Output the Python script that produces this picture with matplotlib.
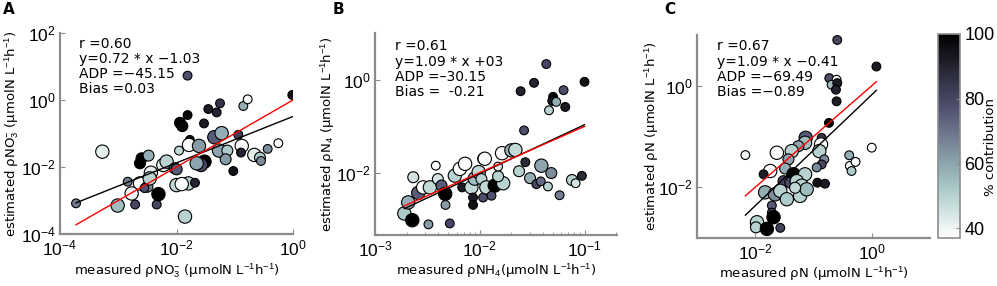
import numpy as np
import matplotlib
matplotlib.use("Agg")
import matplotlib.pyplot as plt
from matplotlib.colors import Normalize
from matplotlib.ticker import NullLocator, LogLocator, NullFormatter

# ---------------- data (log10 values) ----------------
# Panel A: nitrate
a_logx = [-3.725, -3.273, -3.01, -2.838, -2.71, -2.34, -2.627, -2.60, -2.48, -2.44,
          -2.627, -2.50, -2.46, -2.55, -2.77, -2.31, -2.226, -2.17, -2.03, -2.00,
          -1.81, -1.81, -1.94, -1.90, -1.77, -1.786, -1.957, -1.614, -1.528, -1.454,
          -1.31, -1.253, -1.35, -1.225, -1.27, -1.127, -1.156, -1.52, -1.58, -1.654,
          -1.997, -1.025, -0.939, -0.88, -0.893, -0.853, -0.778, -0.664, -0.567, -0.55,
          -0.435, -0.252, -0.012, -1.797, -1.91, -1.683, -1.854]
a_logy = [-3.085, -1.542, -3.15, -2.44, -3.12, -3.12, -1.89, -1.74, -1.66, -2.17,
          -2.49, -2.59, -2.34, -2.63, -2.79, -2.81, -1.94, -1.84, -2.04, -2.54,
          0.727, -0.45, -0.68, -0.78, -1.19, -1.34, -1.51, -1.37, -0.70, -0.27,
          -0.37, -0.10, -1.11, -0.99, -1.51, -1.51, -1.77, -1.84, -1.94, -1.89,
          -2.07, -2.12, -1.04, -1.37, -1.57, -0.18, 0.02, -1.64, -1.72, -1.82,
          -1.46, -1.29, 0.15, -2.49, -2.51, -2.47, -3.48]
a_contrib = [68, 42, 55, 68, 80, 80, 100, 100, 58, 42,
             38, 65, 50, 78, 40, 100, 42, 50, 75, 48,
             78, 98, 98, 98, 96, 38, 48, 62, 92, 92,
             90, 85, 75, 58, 60, 52, 62, 100, 80, 60,
             75, 95, 82, 38, 90, 58, 38, 42, 52, 65,
             65, 38, 95, 50, 38, 90, 50]
a_size = [1, 3, 3, 1, 1, 1, 2, 2, 2, 3,
          3, 2, 3, 1, 3, 3, 3, 3, 2, 3,
          1, 1, 2, 2, 1, 3, 1, 3, 1, 1,
          1, 1, 3, 3, 3, 2, 2, 3, 3, 3,
          2, 1, 1, 3, 1, 1, 1, 3, 2, 1,
          1, 1, 1, 3, 3, 1, 3]
a_fit_x = [-3.725, -0.012]
a_fit_y = [-3.07, -0.50]
a_one_x = [-3.725, -0.012]

# Panel B: ammonium
b_logx = [-2.72, -2.644, -2.49, -2.286, -2.683, -2.635, -2.587, -2.54, -2.476, -2.42,
          -2.40, -2.365, -2.33, -2.327, -2.238, -2.19, -2.14, -2.168, -2.08, -2.064,
          -2.064, -2.048, -2.01, -1.968, -1.984, -1.968, -1.937, -1.952, -1.857, -1.777,
          -1.825, -1.825, -1.888, -1.787, -1.698, -1.66, -1.625, -1.565, -1.577, -1.61,
          -1.482, -1.365, -1.30, -1.308, -1.27, -1.20, -1.184, -1.339, -1.0, -1.52,
          -1.46, -1.418, -1.412, -1.317, -1.349, -1.238, -1.12, -1.085, -1.025]
b_logy = [-2.884, -3.03, -3.12, -3.10, -2.645, -2.10, -2.44, -2.32, -2.32, -1.85,
          -2.14, -2.28, -2.46, -2.70, -2.065, -1.92, -1.81, -2.32, -2.32, -2.54,
          -2.70, -2.13, -1.99, -1.70, -2.14, -2.54, -2.32, -1.70, -2.28, -2.23,
          -2.08, -1.87, -2.50, -1.58, -1.52, -1.51, -1.97, -1.775, -1.087, -0.239,
          -0.058, 0.348, -0.36, -0.45, -0.47, -0.217, -0.58, -0.652, -0.036, -2.12,
          -2.25, -2.19, -1.85, -2.01, -2.30, -2.49, -2.16, -2.23, -2.07]
b_contrib = [52, 100, 62, 80, 58, 45, 75, 38, 48, 38,
             45, 75, 100, 62, 50, 38, 38, 92, 48, 92,
             95, 55, 48, 38, 50, 78, 48, 38, 100, 50,
             50, 42, 78, 38, 58, 48, 50, 88, 78, 90,
             90, 80, 100, 92, 58, 78, 92, 50, 95, 58,
             80, 72, 60, 65, 50, 68, 50, 45, 88]
b_size = [3, 3, 1, 1, 3, 2, 3, 3, 3, 1,
          2, 2, 3, 1, 3, 3, 3, 1, 3, 1,
          1, 3, 3, 2, 2, 1, 3, 3, 3, 3,
          2, 1, 1, 3, 3, 3, 2, 1, 1, 1,
          1, 1, 1, 1, 1, 1, 1, 1, 1, 2,
          1, 1, 3, 2, 1, 1, 2, 1, 1]
b_fit_x = [-2.72, -1.0]
b_fit_y = [-2.78, -0.965]
b_one_x = [-2.72, -1.0]

# Panel C: total N
c_logx = [-0.592, 0.08, -0.729, -0.604, -0.69, -0.592, -0.615, -0.604, -0.735, -0.86,
          -0.871, -0.90, -0.815, -0.86, 0.0, -0.387, -0.376, -0.279, -0.347, -0.934,
          -0.803, -2.17, -1.134, -1.145, -1.26, -1.373, -1.43, -1.629, -1.743, -1.857,
          -1.487, -1.344, -1.515, -1.40, -1.145, -1.287, -1.202, -0.946, -1.83, -1.66,
          -1.57, -1.458, -1.23, -1.117, -1.715, -1.715, -1.686, -1.97, -1.988, -1.80,
          -1.57, -1.316]
c_logy = [0.902, 0.379, 0.15, 0.118, 0.02, 0.052, -0.078, -0.307, -0.732, -1.026,
          -1.157, -1.288, -1.45, -1.55, -1.22, -1.37, -1.58, -1.50, -1.68, -1.91,
          -1.93, -1.366, -1.026, -1.124, -1.19, -1.288, -1.45, -1.32, -1.68, -1.745,
          -1.63, -1.745, -1.88, -1.91, -1.745, -1.88, -1.97, -1.61, -2.10, -2.14,
          -2.07, -2.236, -2.17, -2.04, -2.36, -2.50, -2.59, -2.69, -2.79, -2.82,
          -2.80, -2.01]
c_contrib = [80, 92, 78, 38, 55, 92, 90, 92, 100, 85,
             38, 50, 65, 80, 38, 58, 38, 38, 52, 95,
             92, 40, 75, 55, 60, 50, 60, 38, 38, 92,
             58, 100, 80, 80, 50, 50, 50, 65, 58, 65,
             50, 52, 50, 55, 75, 80, 100, 50, 50, 100,
             82, 48]
c_size = [1, 1, 1, 1, 1, 1, 1, 1, 1, 1,
          3, 3, 1, 1, 1, 1, 1, 1, 1, 1,
          1, 1, 3, 3, 2, 3, 2, 3, 3, 1,
          2, 3, 2, 2, 3, 3, 3, 1, 3, 3,
          3, 3, 3, 3, 1, 1, 3, 3, 2, 3,
          1, 2]
c_fit_x = [-2.17, 0.08]
c_fit_y = [-2.55, -0.09]
c_one_x = [-2.17, 0.08]

stats_a = ["r =0.60", "y=0.72 * x \u22121.03", "ADP =\u221245.15", "Bias =0.03"]
stats_b = ["r =0.61", "y=1.09 * x +03", "ADP =\u201330.15", "Bias =  -0.21"]
stats_c = ["r =0.67", "y=1.09 * x \u22120.41", "ADP =\u221269.49", "Bias =\u22120.89"]

vmin, vmax = 37, 100
cbar_ticks = [40, 60, 80, 100]

# ---------------- figure ----------------
plt.rcParams["mathtext.fontset"] = "custom"
plt.rcParams["mathtext.rm"] = "Liberation Sans"
plt.rcParams["mathtext.it"] = "Liberation Sans:italic"
plt.rcParams["mathtext.bf"] = "Liberation Sans:bold"

W, H = 997, 286
fig = plt.figure(figsize=(W / 100, H / 100), dpi=100)
cmap = plt.get_cmap("bone_r")
norm = Normalize(vmin=vmin, vmax=vmax)
size_map = {1: 40, 2: 62, 3: 92}
SPINE = "#8c8c8c"
TICKFONT = "Liberation Sans"


def rect(l, t, r, b):
    return [l / W, 1 - b / H, (r - l) / W, (b - t) / H]


def pow10_label(v):
    e = int(round(np.log10(v)))
    return r"$\mathregular{10^{%d}}$" % e


def style(ax):
    for s in ("top", "right"):
        ax.spines[s].set_visible(False)
    for s in ("left", "bottom"):
        ax.spines[s].set_color(SPINE)
        ax.spines[s].set_linewidth(1.6)
    ax.tick_params(which="both", direction="in", color=SPINE, labelsize=12.5, pad=3)
    ax.tick_params(which="major", length=3.5)
    ax.tick_params(which="minor", length=2)
    ax.set_facecolor("none")
    for lab in ax.get_xticklabels() + ax.get_yticklabels():
        lab.set_fontfamily(TICKFONT)


def panel(ax, box, lx, ly, c, sz, fx, fy, ox, stats, stat_xy, xlim, ylim, xt, yt,
          xlab, ylab, ylab_right, letter, letter_x, minor_x=False):
    l, t, r, b = box
    x = 10.0 ** np.array(lx)
    y = 10.0 ** np.array(ly)
    ax.scatter(x, y, c=c, cmap=cmap, norm=norm, s=[size_map[k] for k in sz],
               edgecolors="black", linewidths=0.8, zorder=2)
    ax.plot(10.0 ** np.array(fx), 10.0 ** np.array(fy), color="black", lw=1.0, zorder=3)
    ax.plot(10.0 ** np.array(ox), 10.0 ** np.array(ox), color="red", lw=1.0, zorder=4)
    ax.set_xscale("log")
    ax.set_yscale("log")
    ax.set_xlim(*xlim)
    ax.set_ylim(*ylim)
    ax.set_xticks(xt, [pow10_label(v) for v in xt])
    ax.set_yticks(yt, [pow10_label(v) for v in yt])
    if minor_x:
        ax.xaxis.set_minor_locator(LogLocator(base=10, subs=np.arange(2, 10)))
        ax.xaxis.set_minor_formatter(NullFormatter())
    else:
        ax.xaxis.set_minor_locator(NullLocator())
    ax.yaxis.set_minor_locator(NullLocator())
    style(ax)
    ax.set_xlabel(xlab, fontsize=9.5)
    ax.set_ylabel(ylab, fontsize=9.5)
    ax.xaxis.set_label_coords(0.5, -27 / (b - t))
    ax.yaxis.set_label_coords((ylab_right - l) / (r - l), 0.5)
    sx, sy = stat_xy
    for i, line in enumerate(stats):
        py = sy + i * 15.3
        ax.text((sx - l) / (r - l), (b - py) / (b - t), line, transform=ax.transAxes,
                fontsize=10, va="center", ha="left")
    fig.text(letter_x / W, 1 - 9 / H, letter, fontsize=11, fontweight="bold",
             ha="left", va="center")


unit = r"(μmolN L$^{-1}$h$^{-1}$)"

boxA = (60, 33, 293, 234)
axA = fig.add_axes(rect(*boxA))
panel(axA, boxA, a_logx, a_logy, a_contrib, a_size, a_fit_x, a_fit_y, a_one_x, stats_a,
      (79, 43.5), (1e-4, 1), (1e-4, 1e2), [1e-4, 1e-2, 1], [1e-4, 1e-2, 1, 1e2],
      r"measured ρNO$_3^{-}$ " + unit, r"estimated ρNO$_3^{-}$ " + unit, 21, "A", 3)

boxB = (375, 33, 617, 235)
axB = fig.add_axes(rect(*boxB))
panel(axB, boxB, b_logx, b_logy, b_contrib, b_size, b_fit_x, b_fit_y, b_one_x, stats_b,
      (395, 46.5), (1e-3, 10 ** -0.69), (10 ** -3.35, 10 ** 1.02), [1e-3, 1e-2, 1e-1],
      [1e-2, 1], r"measured ρNH$_4$" + unit, r"estimated ρN$_4$ " + unit, 337, "B", 333,
      minor_x=True)

boxC = (697, 35, 930, 238)
axC = fig.add_axes(rect(*boxC))
panel(axC, boxC, c_logx, c_logy, c_contrib, c_size, c_fit_x, c_fit_y, c_one_x, stats_c,
      (717, 46.5), (1e-3, 1e1), (1e-3, 1e1), [1e-2, 1], [1e-2, 1],
      r"measured ρN " + unit, r"estimated ρN " + unit, 661, "C", 664)

cax = fig.add_axes(rect(938, 34, 960, 238))
sm = matplotlib.cm.ScalarMappable(norm=norm, cmap=cmap)
cb = fig.colorbar(sm, cax=cax, ticks=cbar_ticks)
cb.outline.set_edgecolor(SPINE)
cb.outline.set_linewidth(1.2)
cax.tick_params(direction="in", color=SPINE, labelsize=13, length=3, pad=3)
for lab in cax.get_yticklabels():
    lab.set_fontfamily(TICKFONT)
fig.text(990 / W, 1 - 147 / H, "% contribution", rotation=90, fontsize=9.5,
         ha="center", va="center")

fig.savefig("out.png", dpi=100)
